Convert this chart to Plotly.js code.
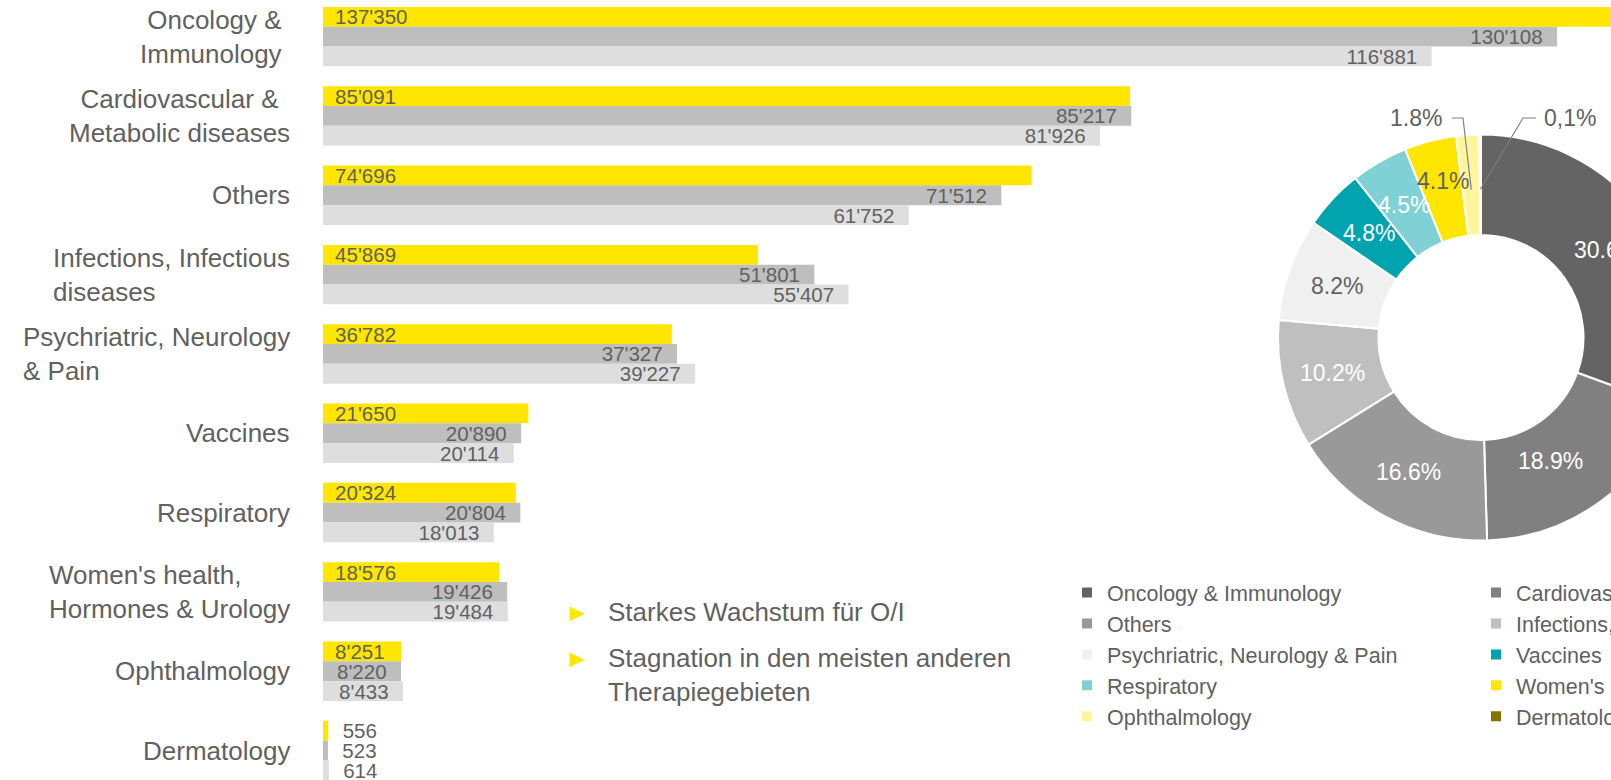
<!DOCTYPE html>
<html><head><meta charset="utf-8">
<script src="https://cdn.plot.ly/plotly-3.0.1.min.js"></script>
<style>
html,body{margin:0;padding:0;width:1611px;height:780px;overflow:hidden;background:#fff;}
#bars{position:absolute;left:0;top:0;width:1700px;height:780px;}
#pie{position:absolute;left:0;top:0;width:1950px;height:780px;}
</style></head><body>
<div id="bars"></div><div id="pie"></div>
<script>
// ---------------- data ----------------
const categories = ["Oncology & Immunology", "Cardiovascular & Metabolic diseases", "Others",
  "Infections, Infectious diseases", "Psychriatric, Neurology & Pain", "Vaccines", "Respiratory",
  "Women's health, Hormones & Urology", "Ophthalmology", "Dermatology"];
const categoryLabels = ["Oncology &<br>Immunology", "Cardiovascular &<br>Metabolic diseases", "Others",
  "Infections, Infectious<br>diseases", "Psychriatric, Neurology<br>& Pain", "Vaccines", "Respiratory",
  "Women's health,<br>Hormones & Urology", "Ophthalmology", "Dermatology"];
const seriesCurrent  = [137350, 85091, 74696, 45869, 36782, 21650, 20324, 18576, 8251, 556];
const seriesPrevious = [130108, 85217, 71512, 51801, 37327, 20890, 20804, 19426, 8220, 523];
const seriesEarlier  = [116881, 81926, 61752, 55407, 39227, 20114, 18013, 19484, 8433, 614];
const pieShareLabels = ["30.6%", "18.9%", "16.6%", "10.2%", "8.2%", "4.8%", "4.5%", "4.1%", "1.8%", "0,1%"];
const bulletTexts = ["Starkes Wachstum für O/I", "Stagnation in den meisten anderen<br>Therapiegebieten"];

// ---------------- style / layout constants ----------------
const FONT = "Liberation Sans, Arial, Helvetica, sans-serif";
const TXT = "#616161";
const W = 1700, H = 780, ML = 323;
const PW = W - ML;
const PX_PER_UNIT = 0.009485;
const X_MAX = PW / PX_PER_UNIT;
const CAT_PITCH = 79.33, FIRST_CENTER = 36.6;
const Y_TOP = -FIRST_CENTER / CAT_PITCH;
const Y_BOTTOM = (H - FIRST_CENTER) / CAT_PITCH;
const PAD_START = "\u00a0\u2006";
const PAD_END = "\u00a0\u00a0";
const barColors = ["#FFE600", "#BEBEBE", "#DEDEDE"];
const pieColors = ["#646464", "#808080", "#999999", "#BFBFBF", "#F0F0F0", "#00A3AE", "#80D1D6", "#FFE600", "#FFF59D", "#807300"];
const pieTextColors = ["#ffffff", "#ffffff", "#ffffff", "#ffffff", TXT, "#ffffff", "#ffffff", TXT, TXT, TXT];

function barTrace(vals, name, color, side) {
  const pos = vals.map(v => v * PX_PER_UNIT > 60 ? "inside" : "outside");
  const tpl = vals.map((v, i) => pos[i] === "inside"
    ? (side === "start" ? PAD_START + "%{x:,}" : "%{x:,}" + PAD_END)
    : "\u00a0\u00a0%{x:,}");
  return {
    type: "bar", orientation: "h", name: name, y: categories, x: vals,
    marker: {color: color, line: {width: 0}},
    texttemplate: tpl, textposition: pos, insidetextanchor: side, textangle: 0,
    constraintext: "none", cliponaxis: false,
    textfont: {family: FONT, size: 20.5, color: TXT},
    hoverinfo: "skip"
  };
}

const barData = [
  barTrace(seriesCurrent, "Aktuell", barColors[0], "start"),
  barTrace(seriesPrevious, "Vorjahr", barColors[1], "end"),
  barTrace(seriesEarlier, "Vor 2 Jahren", barColors[2], "end")
];

const labelRight = {0: 284.4};
const labelAlign = {1: "center", 3: "left", 4: "left", 7: "left"};
const annotations = categoryLabels.map((t, i) => ({
  xref: "paper", yref: "y", x: ((labelRight[i] || 291.5) - ML) / PW, y: categories[i],
  xanchor: "right", yanchor: "middle", align: labelAlign[i] || "right",
  text: t, showarrow: false, font: {family: FONT, size: 26, color: TXT}
}));

const bulletRows = [{tri: 612, text: 612}, {tri: 658, text: 674.5}];
bulletTexts.forEach((t, i) => {
  annotations.push({xref: "paper", yref: "paper", x: (577 - ML) / PW, y: 1 - bulletRows[i].tri / H,
    xanchor: "center", yanchor: "middle", text: "►", showarrow: false,
    font: {family: FONT, size: 25, color: "#FFE600"}});
  annotations.push({xref: "paper", yref: "paper", x: (606 - ML) / PW, y: 1 - bulletRows[i].text / H,
    xanchor: "left", yanchor: "middle", align: "left", text: t, showarrow: false,
    font: {family: FONT, size: 26, color: TXT}});
});

Plotly.newPlot("bars", barData, {
  width: W, height: H, autosize: false,
  margin: {l: ML, r: 0, t: 0, b: 0, pad: 0},
  paper_bgcolor: "#ffffff", plot_bgcolor: "#ffffff",
  barmode: "group", bargap: 0.251, bargroupgap: 0,
  separators: ".'", showlegend: false,
  xaxis: {range: [0, X_MAX], visible: false, fixedrange: true},
  yaxis: {type: "category", categoryorder: "array", categoryarray: categories,
          range: [Y_BOTTOM, Y_TOP], visible: false, fixedrange: true},
  annotations: annotations
}, {staticPlot: true});

// ---------------- pie ----------------
const PW_L = 700, PW_W = 1000, PIE_DIV_W = 1950;
const PIE = {cx: 1481, cy: 337.5, r: 203, hole: 0.505};
const total = seriesCurrent.reduce((a, b) => a + b, 0);
const smallShare = seriesCurrent.map(v => v / total < 0.025);
const toPX = px => (px - PW_L) / PW_W;
const toPY = py => 1 - py / H;

// label placement tweaks (pixels) and leader-line layout for the two tiny slices
const labelNudge = {1: [-20, 0], 7: [0, -9]};
const leaders = [{label: [1416, 118], start: 1452, knee: 1463},
                 {label: [1570, 118], start: 1536, knee: 1523}];
const pieAnn = [];
const pieShapes = [];
let cum = 0, k = 0;
const rMid = PIE.r * (1 + PIE.hole) / 2;
seriesCurrent.forEach((v, i) => {
  const mid = (cum + v / 2) / total * 2 * Math.PI;
  cum += v;
  if (smallShare[i]) {
    const rr = PIE.r * 0.73;
    const px = PIE.cx + rr * Math.sin(mid), py = PIE.cy - rr * Math.cos(mid);
    const L = leaders[k++];
    pieAnn.push({xref: "paper", yref: "paper", x: toPX(L.label[0]), y: toPY(L.label[1]),
      xanchor: "center", yanchor: "middle", showarrow: false, text: pieShareLabels[i],
      font: {family: FONT, size: 23, color: TXT}});
    pieShapes.push({type: "path", xref: "paper", yref: "paper",
      path: "M" + toPX(L.start) + "," + toPY(L.label[1]) + " L" + toPX(L.knee) + "," + toPY(L.label[1]) +
            " L" + toPX(px) + "," + toPY(py),
      line: {color: "#7f7f7f", width: 1.2}});
  } else {
    const n = labelNudge[i] || [0, 0];
    const px = PIE.cx + rMid * Math.sin(mid) + n[0], py = PIE.cy - rMid * Math.cos(mid) + n[1];
    pieAnn.push({xref: "paper", yref: "paper", x: toPX(px), y: toPY(py),
      xanchor: "center", yanchor: "middle", showarrow: false, text: pieShareLabels[i],
      font: {family: FONT, size: 23, color: pieTextColors[i]}});
  }
});

Plotly.newPlot("pie", [{
  type: "pie", labels: categories, values: seriesCurrent, sort: false,
  direction: "clockwise", rotation: 0, hole: PIE.hole,
  marker: {colors: pieColors, line: {color: "#ffffff", width: 2}},
  textinfo: "none",
  hoverinfo: "skip",
  domain: {x: [toPX(PIE.cx - PIE.r), toPX(PIE.cx + PIE.r)],
           y: [toPY(PIE.cy + PIE.r), toPY(PIE.cy - PIE.r)]}
}], {
  width: PIE_DIV_W, height: H, autosize: false,
  margin: {l: PW_L, r: PIE_DIV_W - PW_L - PW_W, t: 0, b: 0, pad: 0},
  paper_bgcolor: "rgba(0,0,0,0)", plot_bgcolor: "rgba(0,0,0,0)",
  showlegend: true,
  legend: {orientation: "h", x: toPX(1067), xanchor: "left", y: toPY(572), yanchor: "top",
           entrywidth: 364, entrywidthmode: "pixels", traceorder: "normal",
           font: {family: FONT, size: 21.5, color: TXT}, bgcolor: "rgba(0,0,0,0)", borderwidth: 0},
  annotations: pieAnn,
  shapes: pieShapes
}, {staticPlot: true});
</script>
</body></html>
